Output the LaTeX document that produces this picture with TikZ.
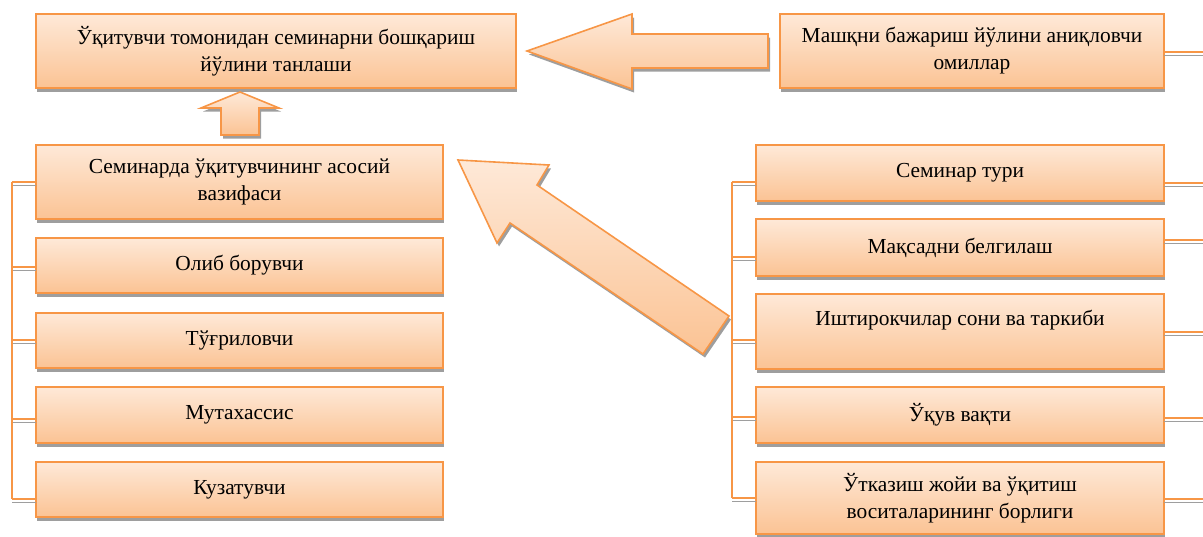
\documentclass[tikz,border=0pt]{standalone}
\usepackage{fontspec}
\setmainfont{Liberation Serif}
\usetikzlibrary{shadows,calc}
\definecolor{ob}{RGB}{247,150,70}
\definecolor{otop}{RGB}{254,233,216}
\definecolor{obot}{RGB}{251,195,148}
\definecolor{shd}{RGB}{158,158,158}
\begin{document}
\begin{tikzpicture}[x=1pt,y=-1pt,
  box/.style={draw=ob, line width=1.6pt, top color=otop, bottom color=obot,
    inner sep=0pt, outer sep=0pt, align=center,
    font=\fontsize{21.4}{27}\selectfont,
    drop shadow={shadow xshift=1pt, shadow yshift=-3.5pt, fill=shd, opacity=1}},
  lbox/.style={box, minimum width=407pt},
  rbox/.style={box, minimum width=408pt},
  blockarrow/.style={draw=ob, line width=1.6pt, line join=miter, top color=otop, bottom color=obot,
    drop shadow={shadow xshift=2pt, shadow yshift=-3.5pt, fill=shd, opacity=1}},
  diagarrow/.style={draw=ob, line width=1.6pt, line join=miter, shading angle=150, top color=otop, bottom color=obot,
    drop shadow={shadow xshift=2pt, shadow yshift=-3.5pt, fill=shd, opacity=1}},
  link/.style={draw=ob, line width=1.6pt,
    preaction={draw=shd, line width=1.6pt, transform canvas={yshift=-3.5pt}}},
  vlink/.style={draw=ob, line width=1.6pt}
]
\useasboundingbox (0,0) rectangle (1203,536);

% top row
\node[box, minimum width=480pt, minimum height=74pt] (T) at (276,51)
  {Ўқитувчи томонидан семинарни бошқариш\\йўлини танлаши};
\node[box, minimum width=384pt, minimum height=74pt] (R0) at (972,51)
  {Машқни бажариш йўлини аниқловчи\\омиллар};

% left column
\node[lbox, minimum height=74pt] (L1) at (239.5,182) {Семинарда ўқитувчининг асосий\\вазифаси};
\node[lbox, minimum height=55pt] (L2) at (239.5,265.5) {Олиб борувчи};
\node[lbox, minimum height=55pt] (L3) at (239.5,340.5) {Тўғриловчи};
\node[lbox, minimum height=56pt] (L4) at (239.5,415) {Мутахассис};
\node[lbox, minimum height=55pt] (L5) at (239.5,489.5) {Кузатувчи};

% right column
\node[rbox, minimum height=56pt] (R1) at (960,173) {Семинар тури};
\node[rbox, minimum height=57pt] (R2) at (960,247.5) {Мақсадни белгилаш};
\node[rbox, minimum height=75pt] (R3) at (960,331.5) {Иштирокчилар сони ва таркиби\\[-7pt]\strut};
\node[rbox, minimum height=56pt] (R4) at (960,415) {Ўқув вақти};
\node[rbox, minimum height=72pt] (R5) at (960,498) {Ўтказиш жойи ва ўқитиш\\воситаларининг борлиги};

% block arrows
\path[blockarrow] (527,51) -- (632,14) -- (632,34) -- (768,34) -- (768,68) -- (632,68) -- (632,89) -- cycle;
\path[blockarrow] (240,92) -- (279,108) -- (259,108) -- (259,135) -- (221,135) -- (221,108) -- (201,108) -- cycle;
\path[diagarrow] (458,160) -- (549,165) -- (537,185) -- (729,316) -- (703,354) -- (510,223) -- (497,243) -- cycle;

% left bracket
\coordinate (lb1) at (12,182);
\coordinate (lb2) at (12,267);
\coordinate (lb3) at (12,340);
\coordinate (lb4) at (12,419);
\coordinate (lb5) at (12,499);
\foreach \i in {1,...,5} \draw[link] (lb\i) -- (lb\i -| L\i.west);
\draw[vlink] (lb1) -- (lb5);

% right bracket
\coordinate (rb1) at (732,182);
\coordinate (rb2) at (732,257);
\coordinate (rb3) at (732,340);
\coordinate (rb4) at (732,417);
\coordinate (rb5) at (732,498);
\foreach \i in {1,...,5} \draw[link] (rb\i) -- (rb\i -| R\i.west);
\draw[vlink] (rb1) -- (rb5);

% right edge stubs
\coordinate (e0) at (1203,52);
\coordinate (e1) at (1203,183);
\coordinate (e2) at (1203,240);
\coordinate (e3) at (1203,332);
\coordinate (e4) at (1203,418);
\coordinate (e5) at (1203,499);
\draw[link] (R0.east |- e0) -- (e0);
\foreach \i in {1,...,5} \draw[link] (R\i.east |- e\i) -- (e\i);
\end{tikzpicture}
\end{document}
